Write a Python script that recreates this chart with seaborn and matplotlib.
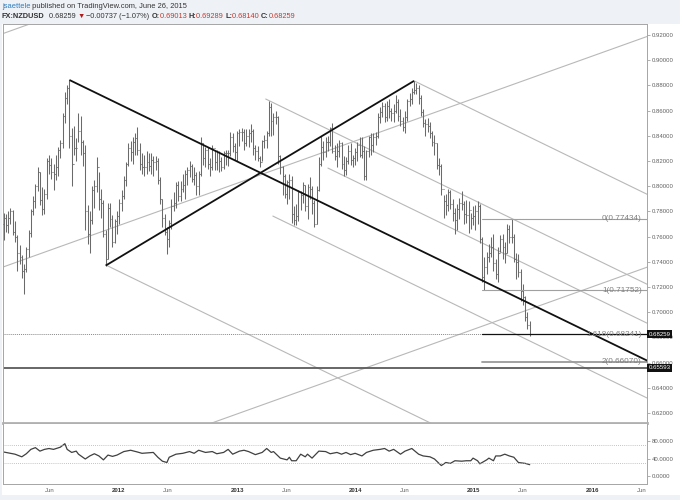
import numpy as np
import pandas as pd
import matplotlib
matplotlib.use("Agg")
import matplotlib.pyplot as plt
import matplotlib.dates as mdates
import matplotlib.transforms as mtransforms
import seaborn as sns

sns.set_style("white")
plt.rcParams["font.family"] = ["Liberation Sans", "DejaVu Sans"]

# ---------------- data (weekly NZDUSD) ----------------
first_week = "2011-01-10"
first_open = 0.7700

close_2011 = [.7745, .7690, .7750, .7800, .7640, .7600, .7470, .7440, .7330, .7340, .7500, .7630,
              .7800, .7880, .8000, .8110, .7890, .7820, .7940, .8200, .8170, .8110, .8100, .8150,
              .8290, .8340, .8560, .8700, .8780, .8400, .8180, .8300, .8300, .8440, .8350, .8260,
              .7800, .7620, .7730, .7970, .8000, .8150, .7900, .7870, .7620, .7420, .7830, .7740,
              .7560, .7720, .7760]
high_2011 = [.7790, .7780, .7800, .7830, .7810, .7720, .7610, .7530, .7450, .7380, .7520, .7650,
             .7820, .7920, .8020, .8150, .8110, .7990, .7980, .8220, .8250, .8220, .8180, .8250,
             .8310, .8370, .8580, .8750, .8800, .8843, .8460, .8480, .8380, .8580, .8560, .8370,
             .8330, .7850, .7800, .8000, .8050, .8230, .8110, .7980, .7890, .7650, .7870, .7870,
             .7770, .7740, .7800]
low_2011 = [.7570, .7640, .7630, .7700, .7610, .7560, .7330, .7380, .7270, .7145, .7320, .7440,
            .7600, .7770, .7830, .7960, .7850, .7770, .7780, .7900, .8100, .8060, .7970, .8050,
            .8080, .8220, .8300, .8500, .8650, .8300, .8000, .8250, .8200, .8350, .8250, .8160,
            .7650, .7540, .7470, .7700, .7830, .7950, .7810, .7750, .7600, .7370, .7420, .7680,
            .7520, .7550, .7620]

close_2012 = [.7870, .7920, .8050, .8180, .8300, .8270, .8350, .8380, .8290, .8180, .8150, .8150,
              .8190, .8160, .8210, .8190, .8200, .8050, .7900, .7750, .7640, .7580, .7710, .7840,
              .7870, .8010, .7920, .7980, .8010, .8100, .8130, .8160, .8060, .8090, .8000, .8100,
              .8340, .8220, .8290, .8180, .8150, .8300, .8190, .8270, .8200, .8150, .8260, .8260,
              .8260, .8390, .8320, .8270, .8420]
high_2012 = [.7900, .7970, .8080, .8190, .8340, .8360, .8390, .8420, .8468, .8340, .8260, .8250,
             .8280, .8260, .8260, .8240, .8240, .8220, .8070, .7900, .7780, .7680, .7730, .7900,
             .7950, .8030, .8040, .8040, .8100, .8130, .8150, .8200, .8180, .8150, .8110, .8120,
             .8390, .8340, .8310, .8310, .8220, .8330, .8290, .8290, .8280, .8230, .8280, .8290,
             .8290, .8430, .8420, .8340, .8440]
low_2012 = [.7700, .7800, .7900, .8000, .8160, .8200, .8180, .8250, .8250, .8130, .8100, .8080,
            .8100, .8120, .8100, .8080, .8130, .8020, .7860, .7680, .7610, .7465, .7520, .7660,
            .7800, .7830, .7880, .7880, .7950, .7900, .8010, .8070, .8030, .8010, .7930, .7930,
            .8080, .8170, .8150, .8140, .8080, .8130, .8130, .8130, .8110, .8120, .8140, .8170,
            .8160, .8240, .8270, .8210, .8200]

close_2013 = [.8430, .8430, .8340, .8400, .8420, .8440, .8300, .8280, .8220, .8190, .8360, .8370,
              .8420, .8630, .8520, .8550, .8550, .8240, .8150, .8080, .7940, .8030, .8050, .7780,
              .7730, .7760, .7950, .7930, .8010, .7840, .7990, .7980, .7870, .7700, .7970, .8180,
              .8310, .8270, .8350, .8350, .8460, .8280, .8240, .8280, .8340, .8180, .8130, .8200,
              .8280, .8210, .8220, .8270]
high_2013 = [.8450, .8460, .8450, .8450, .8450, .8490, .8450, .8330, .8320, .8240, .8370, .8410,
             .8440, .8676, .8660, .8580, .8600, .8560, .8250, .8160, .8100, .8050, .8100, .8080,
             .7840, .7860, .7970, .7960, .8030, .8010, .8020, .8070, .8000, .7890, .8000, .8230,
             .8400, .8360, .8390, .8400, .8470, .8500, .8330, .8340, .8370, .8350, .8240, .8230,
             .8330, .8340, .8250, .8300]
low_2013 = [.8320, .8360, .8290, .8320, .8310, .8350, .8250, .8210, .8200, .8150, .8200, .8300,
            .8300, .8400, .8400, .8410, .8490, .8180, .8100, .7930, .7910, .7860, .7900, .7710,
            .7690, .7690, .7720, .7810, .7870, .7800, .7740, .7900, .7780, .7680, .7700, .7960,
            .8160, .8210, .8230, .8280, .8320, .8260, .8210, .8150, .8230, .8140, .8080, .8090,
            .8180, .8170, .8150, .8170]

close_2014 = [.8330, .8250, .8280, .8080, .8280, .8390, .8330, .8390, .8400, .8550, .8590, .8640,
              .8550, .8640, .8600, .8580, .8600, .8670, .8560, .8520, .8470, .8550, .8680, .8690,
              .8750, .8760, .8780, .8700, .8590, .8500, .8490, .8480, .8420, .8350, .8340, .8170,
              .8160, .7980, .7880, .7850, .7950, .7860, .7790, .7730, .7820, .7870, .7860, .7780,
              .7770, .7810, .7750, .7760]
high_2014 = [.8350, .8390, .8390, .8320, .8290, .8400, .8420, .8420, .8430, .8580, .8630, .8670,
             .8660, .8680, .8690, .8620, .8650, .8720, .8690, .8610, .8550, .8600, .8690, .8740,
             .8780, .8836, .8820, .8800, .8720, .8610, .8530, .8540, .8510, .8440, .8410, .8340,
             .8220, .8180, .7930, .7940, .7980, .7970, .7900, .7830, .7860, .7910, .7960, .7880,
             .7890, .7880, .7790, .7840]
low_2014 = [.8200, .8230, .8220, .8050, .8050, .8230, .8250, .8270, .8330, .8380, .8500, .8550,
            .8510, .8520, .8540, .8520, .8510, .8580, .8520, .8480, .8440, .8420, .8520, .8640,
            .8650, .8730, .8730, .8650, .8560, .8470, .8400, .8430, .8380, .8320, .8250, .8140,
            .8090, .7930, .7750, .7770, .7800, .7820, .7720, .7620, .7650, .7740, .7810, .7700,
            .7710, .7630, .7660, .7690]

close_2015 = [.7800, .7840, .7580, .7280, .7360, .7440, .7470, .7520, .7390, .7300, .7470, .7580,
              .7520, .7470, .7660, .7600, .7600, .7420, .7400, .7320, .7170, .7120, .6960, .6901,
              .68259]
high_2015 = [.7850, .7880, .7860, .7600, .7440, .7480, .7540, .7600, .7620, .7420, .7520, .7610,
             .7620, .7560, .7700, .7690, .7743, .7620, .7470, .7460, .7340, .7220, .7130, .7000,
             .69289]
low_2015 = [.7650, .7700, .7550, .7240, .7175, .7300, .7400, .7440, .7330, .7260, .7240, .7480,
            .7420, .7390, .7470, .7550, .7550, .7400, .7260, .7280, .7090, .7060, .6930, .6870,
            .68140]

# RSI(14): week index from first_week, value
rsi_week = [0, 3, 5, 7, 8, 10, 12, 14, 16, 18, 20, 22, 25, 27, 28, 30, 32, 33, 36, 38, 40, 42,
            44, 46, 48, 50, 53, 56, 59, 61, 66, 68, 70, 72, 73, 76, 79, 82, 84, 86, 89, 92, 94,
            97, 99, 101, 104, 106, 108, 111, 114, 116, 118, 119, 122, 125, 126, 127, 129, 131,
            133, 134, 136, 139, 142, 144, 147, 149, 151, 153, 155, 158, 160, 163, 166, 168, 170,
            172, 175, 177, 180, 183, 185, 188, 190, 193, 195, 197, 199, 202, 204, 206, 207, 209,
            210, 213, 214, 216, 217, 219, 221, 223, 225, 227, 230, 232]
rsi_value = [55, 52, 50, 46, 44, 51, 61, 65, 57, 61, 63, 61, 66, 74, 61, 54, 57, 50, 39, 46, 51,
             46, 37, 48, 45, 48, 56, 59, 55, 52, 54, 43, 34, 31, 43, 50, 52, 56, 52, 59, 54, 56,
             51, 54, 61, 50, 57, 59, 56, 49, 54, 63, 54, 56, 41, 37, 43, 35, 35, 50, 44, 50, 41,
             57, 56, 51, 54, 50, 54, 49, 52, 46, 54, 59, 61, 63, 57, 61, 50, 57, 63, 50, 46, 44,
             39, 24, 31, 29, 35, 34, 35, 35, 41, 35, 28, 37, 41, 35, 46, 46, 50, 46, 43, 31, 29, 26]

# drawing-tool anchors (date, price)
black_lines = [(("2011-08-01", 0.8843), ("2016-07-01", 0.6600)),
               (("2011-11-21", 0.7370), ("2014-06-30", 0.8836))]
gray_lines = [(("2011-01-01", 0.7352), ("2016-07-01", 0.9200)),
              (("2011-01-01", 0.5521), ("2016-07-01", 0.7369)),
              (("2011-01-01", 0.9205), ("2016-07-01", 1.1053)),
              (("2014-06-30", 0.8836), ("2016-07-01", 0.7920)),
              (("2013-03-29", 0.8692), ("2016-07-01", 0.7206)),
              (("2013-10-07", 0.8144), ("2016-07-01", 0.6897)),
              (("2013-04-20", 0.7763), ("2016-07-01", 0.6303)),
              (("2011-11-21", 0.7375), ("2016-07-01", 0.5268))]
fib_start = "2015-01-27"
fib_ratio = ["0", "1", "1.618", "2"]
fib_price = [0.77434, 0.71752, 0.68241, 0.66070]
last_price = 0.68259
support_price = 0.65593

price_ticks = [0.62, 0.64, 0.66, 0.68, 0.70, 0.72, 0.74, 0.76, 0.78, 0.80, 0.82, 0.84, 0.86,
               0.88, 0.90, 0.92]
rsi_ticks = [0, 40, 80]
x_tick_dates = ["2011-06-01", "2012-01-01", "2012-06-01", "2013-01-01", "2013-06-01",
                "2014-01-01", "2014-06-01", "2015-01-01", "2015-06-01", "2016-01-01",
                "2016-06-01"]
x_tick_labels = ["Jun", "2012", "Jun", "2013", "Jun", "2014", "Jun", "2015", "Jun", "2016", "Jun"]

# ---------------- build ----------------
close = np.array(close_2011 + close_2012 + close_2013 + close_2014 + close_2015)
high = np.array(high_2011 + high_2012 + high_2013 + high_2014 + high_2015)
low = np.array(low_2011 + low_2012 + low_2013 + low_2014 + low_2015)
opens = np.concatenate([[first_open], close[:-1]])
weeks = pd.date_range(first_week, periods=len(close), freq="7D")
xw = mdates.date2num(weeks)

rsi_dates = pd.to_datetime(first_week) + pd.to_timedelta(np.array(rsi_week) * 7, unit="D")
rsi_df = pd.DataFrame({"date": rsi_dates, "rsi": rsi_value})

W, H = 680, 500
fig = plt.figure(figsize=(W / 100, H / 100), dpi=100)
fig.patch.set_facecolor("#eef1f6")
fig.add_artist(plt.Rectangle((2 / W, 1 - 495 / H), 678 / W, (495 - 24) / H,
                             transform=fig.transFigure, facecolor="white", edgecolor="none",
                             zorder=0))

ax = fig.add_axes([3 / W, 1 - 423 / H, 644 / W, 399 / H])
ax2 = fig.add_axes([3 / W, 1 - 483.5 / H, 644 / W, 59.5 / H], sharex=ax)

xmin, xmax = mdates.date2num(pd.Timestamp("2011-01-08")), mdates.date2num(pd.Timestamp("2016-06-18"))
ax.set_xlim(xmin, xmax)
ax.set_ylim(0.61206, 0.92873)

bar_c = "#6a6a6a"
ax.vlines(xw, low, high, color=bar_c, lw=0.75, zorder=3)
ax.hlines(opens, xw - 3, xw, color=bar_c, lw=0.75, zorder=3)
ax.hlines(close, xw, xw + 3, color=bar_c, lw=0.75, zorder=3)

def dn(s):
    return mdates.date2num(pd.Timestamp(s))

for (d0, p0), (d1, p1) in gray_lines:
    ax.plot([dn(d0), dn(d1)], [p0, p1], color="#b8b8b8", lw=0.8, zorder=2)
for (d0, p0), (d1, p1) in black_lines:
    ax.plot([dn(d0), dn(d1)], [p0, p1], color="#111111", lw=1.3, zorder=4,
            solid_capstyle="butt")

# fib extension
fx0 = dn(fib_start)
fib_style = {"0": ("#a0a0a0", 0.8), "1": ("#a0a0a0", 0.8), "1.618": ("#111111", 0.9),
             "2": ("#9a9a9a", 1.3)}
ytr = mtransforms.blended_transform_factory(ax.transAxes, ax.transData)
for r, p in zip(fib_ratio, fib_price):
    c, lw = fib_style[r]
    ax.plot([fx0, xmax], [p, p], color=c, lw=lw, zorder=3)
    ax.text(0.992, p, f"{r}({p:.5f})", transform=ytr, ha="right", va="center",
            fontsize=5.9, color="#808080", zorder=5)

ax.axhline(last_price, color="#8a8a8a", lw=0.7, ls=(0, (1, 1)), zorder=2)
ax.axhline(support_price, color="#5a5a5a", lw=1.3, zorder=2)

for p in (last_price, support_price):
    ax.text(1.002, p, f"{p:.5f}", transform=ytr, ha="left", va="center", fontsize=4.4,
            color="white", zorder=10, clip_on=False,
            bbox=dict(boxstyle="square,pad=0.25", fc="#111111", ec="none"))

ax.yaxis.tick_right()
ax.set_yticks(price_ticks)
ax.set_yticklabels([f"{v:.5f}" for v in price_ticks])
ax.tick_params(axis="y", labelsize=4.3, labelcolor="#606060", color="#909090", length=2,
               width=0.5, pad=1.5, right=True, left=False)
ax.tick_params(axis="x", bottom=False, labelbottom=False)
for s in ("left", "top", "right"):
    ax.spines[s].set_color("#a5a5a5")
    ax.spines[s].set_linewidth(0.7)
ax.spines["bottom"].set_color("#b0b0b0")
ax.spines["bottom"].set_linewidth(2.0)
ax.set_facecolor("white")

# RSI pane
sns.lineplot(data=rsi_df, x="date", y="rsi", ax=ax2, color="#404040", lw=0.9)
ax2.axhline(70, color="#b0b0b0", lw=0.6, ls=(0, (1, 1.5)))
ax2.axhline(30, color="#b0b0b0", lw=0.6, ls=(0, (1, 1.5)))
ax2.set_ylim(-17, 119)
ax2.set_xlim(xmin, xmax)
ax2.yaxis.tick_right()
ax2.set_yticks(rsi_ticks)
ax2.set_yticklabels([f"{v:.4f}" for v in rsi_ticks])
ax2.tick_params(axis="y", labelsize=4.3, labelcolor="#606060", color="#909090", length=2,
                width=0.5, pad=1.5, right=True, left=False)
ax2.set_xlabel("")
ax2.set_ylabel("")
ax2.set_xticks([dn(d) for d in x_tick_dates])
ax2.set_xticklabels(x_tick_labels)
ax2.tick_params(axis="x", labelsize=4.3, color="#909090", length=2, width=0.5, pad=1.5)
for lab in ax2.get_xticklabels():
    if lab.get_text().isdigit():
        lab.set_color("#333333")
        lab.set_fontweight("bold")
    else:
        lab.set_color("#606060")
for s in ("left", "right", "bottom"):
    ax2.spines[s].set_color("#a5a5a5")
    ax2.spines[s].set_linewidth(0.7)
ax2.spines["top"].set_visible(False)
ax2.set_facecolor("white")

# header
renderer = fig.canvas.get_renderer()
ident = mtransforms.IdentityTransform()

def text_run(x, y, parts, size):
    for s, c, w in parts:
        t = fig.text(x, y, s, color=c, fontweight=w, fontsize=size, transform=ident,
                     va="center", ha="left")
        x = t.get_window_extent(renderer).x1

red = "#c8382c"
dark = "#333333"
text_run(2, H - 6.5, [("jsaettele", "#2b7bbd", "normal"),
                      (" published on TradingView.com, June 26, 2015", dark, "normal")], 5.4)
text_run(2, H - 16.5, [("FX:NZDUSD", dark, "bold"), ("  0.68259 ", dark, "normal"),
                       ("▼", "#b01c1c", "normal"), (" \u22120.00737 (\u22121.07%) ", dark, "normal"),
                       ("O:", dark, "bold"), ("0.69013 ", red, "normal"),
                       ("H:", dark, "bold"), ("0.69289 ", red, "normal"),
                       ("L:", dark, "bold"), ("0.68140 ", red, "normal"),
                       ("C:", dark, "bold"), ("0.68259", red, "normal")], 5.35)

fig.savefig("out.png", dpi=100, facecolor=fig.get_facecolor())
